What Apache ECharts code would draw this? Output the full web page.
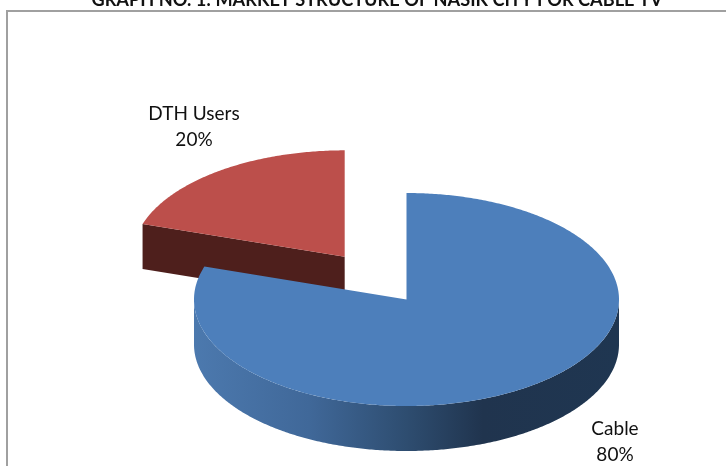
<!DOCTYPE html>
<html>
<head>
<meta charset="utf-8">
<style>html,body{margin:0;padding:0;background:#fff}#chart{width:726px;height:466px}</style>
<script src="https://cdn.jsdelivr.net/npm/echarts@6/dist/echarts.min.js"></script>
</head>
<body>
<div id="chart"></div>
<script>
// Market shares, in percent
const categories = ['Cable', 'DTH Users'];
const shares = [80, 20];
const titleText = 'GRAPH NO. 1: MARKET STRUCTURE OF NASIK CITY FOR CABLE TV';

// Tilted pie layout
const pie = { cx: 406.5, cy: 299.5, rx: 212.5, ry: 106.5, depth: 45 };
const explodeRatio = [0, 0.495];
const labelAnchor = [[615, 442], [194, 127]];
const topColors = ['#4d7fbb', '#bc4f4b'];
const sliceLayer = [2, 1];

const total = shares.reduce((a, b) => a + b, 0);

// Point on the tilted rim; angle runs clockwise from twelve o'clock
function rim(cx, cy, a) {
  return [cx + pie.rx * Math.sin(a), cy - pie.ry * Math.cos(a)];
}

function arcPoints(cx, cy, from, to) {
  const n = Math.max(2, Math.ceil(Math.abs(to - from) / 0.01));
  const pts = [];
  for (let i = 0; i <= n; i++) pts.push(rim(cx, cy, from + (to - from) * i / n));
  return pts;
}

function renderSlice(params, api) {
  const i = params.dataIndex;
  const TAU = Math.PI * 2;
  let start = 0;
  for (let k = 0; k < i; k++) start += shares[k] / total * TAU;
  const end = start + shares[i] / total * TAU;
  const mid = (start + end) / 2;
  const cx = pie.cx + explodeRatio[i] * pie.rx * Math.sin(mid);
  const cy = pie.cy - explodeRatio[i] * pie.ry * Math.cos(mid);
  const layer = sliceLayer[i] * 10;
  const children = [];

  // Walls go under the top face; the larger slice sits in front of the pulled-out one
  if (i === 0) {
    const front = arcPoints(cx, cy, Math.PI / 2, Math.min(end, Math.PI * 1.5));
    const wall = front.concat(front.slice().reverse().map(p => [p[0], p[1] + pie.depth]));
    children.push({
      type: 'polygon',
      z2: layer,
      shape: { points: wall },
      style: {
        fill: new echarts.graphic.LinearGradient(0, 0, 1, 0, [
          { offset: 0, color: '#4c79ae' },
          { offset: 0.27, color: '#406899' },
          { offset: 0.5, color: '#2e4d70' },
          { offset: 0.68, color: '#20344e' },
          { offset: 1, color: '#1f3651' }
        ])
      }
    });
  } else {
    const a = rim(cx, cy, start);
    const cut = [a, [cx, cy], [cx, cy + pie.depth], [a[0], a[1] + pie.depth]];
    children.push({ type: 'polygon', z2: layer, shape: { points: cut }, style: { fill: '#4e1f1c' } });
  }

  const top = [[cx, cy]].concat(arcPoints(cx, cy, start, end));
  children.push({ type: 'polygon', z2: layer + 1, shape: { points: top }, style: { fill: topColors[i] } });

  children.push({
    type: 'text',
    z2: 40,
    x: labelAnchor[i][0],
    y: labelAnchor[i][1],
    style: {
      text: categories[i] + '\n' + shares[i] + '%',
      fill: '#111',
      font: '19px Lato',
      lineHeight: 26,
      align: 'center',
      verticalAlign: 'middle'
    }
  });
  return { type: 'group', children };
}

const chart = echarts.init(document.getElementById('chart'), null, { renderer: 'canvas' });
chart.setOption({
  animation: false,
  backgroundColor: '#fff',
  title: {
    text: titleText,
    left: 372,
    top: -14,
    textAlign: 'center',
    textStyle: { fontFamily: 'Lato', fontWeight: 'bold', fontSize: 18.2, color: '#111' }
  },
  graphic: [{
    type: 'rect',
    shape: { x: 7, y: 11, width: 730, height: 470 },
    style: { fill: 'none', stroke: '#a0a0a0', lineWidth: 2 },
    z: 0
  }],
  series: [{
    type: 'custom',
    coordinateSystem: 'none',
    renderItem: renderSlice,
    data: shares.map((v, i) => ({ name: categories[i], value: v })),
    z: 2
  }]
});
</script>
</body>
</html>
